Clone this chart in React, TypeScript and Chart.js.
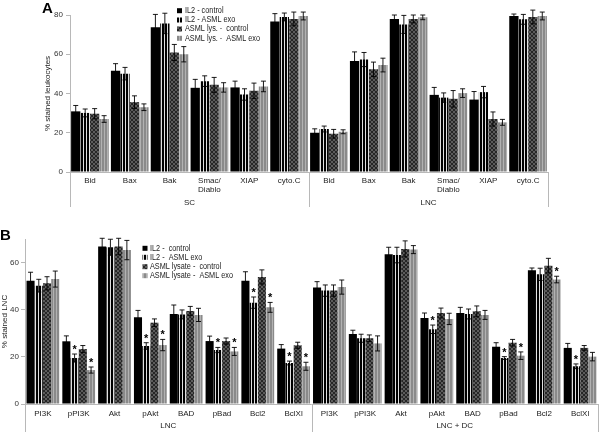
import React, { useEffect, useRef } from 'react';
import { Chart, registerables } from 'chart.js';
Chart.register(...registerables);

const FONT = "'Liberation Sans', Arial, Helvetica, sans-serif";

// ---------- Panel A data ----------
const categoriesA = ['Bid', 'Bax', 'Bak', 'Smac/|Diablo', 'XIAP', 'cyto.C', 'Bid', 'Bax', 'Bak', 'Smac/|Diablo', 'XIAP', 'cyto.C'];
const groupsA = ['SC', 'LNC'];
const seriesNamesA = ['IL2 - control', 'IL2 - ASML exo', 'ASML lys. -  control', 'ASML lys. -  ASML exo'];
const il2ControlA = [30.9, 51.6, 73.8, 42.9, 43.1, 76.7, 20.0, 56.6, 78.0, 39.3, 36.9, 79.5];
const il2ExoA = [30.1, 50.1, 75.7, 46.3, 39.5, 79.0, 21.9, 57.3, 75.2, 37.9, 40.7, 77.8];
const lysControlA = [29.7, 35.6, 60.9, 44.4, 41.4, 78.0, 19.5, 52.3, 78.0, 37.3, 27.0, 79.0];
const lysExoA = [27.0, 33.0, 60.0, 43.1, 43.6, 79.5, 20.5, 54.5, 78.8, 40.2, 25.3, 79.5];
const il2ControlErrA = [3.0, 3.6, 6.5, 4.3, 3.2, 4.0, 2.0, 4.6, 2.0, 3.8, 4.1, 1.0];
const il2ExoErrA = [2.0, 3.2, 5.2, 2.7, 2.9, 2.0, 1.5, 3.6, 4.6, 2.4, 2.9, 2.5];
const lysControlErrA = [2.6, 3.2, 4.1, 3.8, 3.9, 3.5, 2.2, 3.7, 2.0, 4.2, 3.6, 3.5];
const lysExoErrA = [1.7, 1.7, 3.9, 2.4, 2.7, 2.0, 1.0, 3.5, 1.2, 2.2, 1.5, 2.0];
const yTicksA = [0, 20, 40, 60, 80];

// ---------- Panel B data ----------
const categoriesB = ['PI3K', 'pPI3K', 'Akt', 'pAkt', 'BAD', 'pBad', 'Bcl2', 'BclXl', 'PI3K', 'pPI3K', 'Akt', 'pAkt', 'BAD', 'pBad', 'Bcl2', 'BclXl'];
const groupsB = ['LNC', 'LNC + DC'];
const seriesNamesB = ['IL2 -  control', 'IL2 -  ASML exo', 'ASML lysate -  control', 'ASML lysate -  ASML exo'];
const il2ControlB = [52.3, 26.6, 66.8, 36.8, 38.2, 26.7, 52.3, 23.5, 49.4, 29.7, 63.5, 36.5, 38.6, 24.3, 56.7, 23.8];
const il2ExoB = [50.2, 19.5, 66.5, 24.6, 38.0, 22.9, 43.0, 17.4, 48.1, 27.9, 63.2, 31.7, 38.2, 19.5, 55.0, 16.0];
const lysControlB = [51.2, 23.3, 66.8, 34.5, 39.5, 26.7, 53.9, 24.9, 48.1, 27.9, 65.8, 38.6, 39.3, 26.0, 58.7, 23.8];
const lysExoB = [53.0, 14.4, 65.3, 25.0, 37.8, 22.3, 41.0, 16.0, 49.6, 25.7, 65.5, 36.1, 37.8, 20.5, 52.8, 20.1];
const il2ControlErrB = [3.6, 2.3, 3.5, 2.9, 3.8, 2.1, 3.8, 1.7, 2.5, 1.6, 3.0, 2.1, 2.4, 1.7, 1.0, 1.9];
const il2ExoErrB = [2.7, 1.7, 3.4, 1.4, 1.9, 1.1, 2.4, 0.8, 2.4, 1.7, 3.3, 1.8, 2.1, 0.6, 2.6, 1.0];
const lysControlErrB = [2.8, 1.5, 3.5, 1.6, 1.9, 1.3, 3.0, 1.3, 2.4, 1.4, 3.4, 2.1, 2.3, 1.4, 3.1, 1.0];
const lysExoErrB = [3.4, 1.3, 4.1, 2.4, 2.8, 1.7, 2.1, 1.7, 3.0, 3.2, 1.7, 2.4, 1.9, 1.6, 1.4, 1.8];
const starsIl2ExoB = [1, 3, 5, 6, 7, 11, 13, 15];
const starsLysExoB = [1, 3, 5, 6, 7, 13, 14];
const yTicksB = [0, 20, 40, 60];

type PanelCfg = {
  height: number;
  letter: string;
  letterX: number;
  letterY: number;
  cats: string[];
  groups: string[];
  names: string[];
  series: number[][];
  errors: number[][];
  stars: number[][];
  yTicks: number[];
  yMax: number;
  yTitle: string;
  padding: { left: number; right: number; top: number; bottom: number };
  yWidth: number;
  tickPad: number;
  catPct: number;
  barPct: number;
  labelY1: number;
  labelY2: number;
  groupY: number;
  sepBottom: number;
  legendX: number;
  legendTextX: number;
  legendY: number[];
  legendMaxW: number;
};

const cfgA: PanelCfg = {
  height: 215,
  letter: 'A',
  letterX: 42,
  letterY: 13,
  cats: categoriesA,
  groups: groupsA,
  names: seriesNamesA,
  series: [il2ControlA, il2ExoA, lysControlA, lysExoA],
  errors: [il2ControlErrA, il2ExoErrA, lysControlErrA, lysExoErrA],
  stars: [[], [], [], []],
  yTicks: yTicksA,
  yMax: 80,
  yTitle: '% stained leukocytes',
  padding: { left: 43, right: 52, top: 15, bottom: 43 },
  yWidth: 27,
  tickPad: 3,
  catPct: 0.95,
  barPct: 0.98,
  labelY1: 181,
  labelY2: 190,
  groupY: 203,
  sepBottom: 207,
  legendX: 177,
  legendTextX: 185,
  legendY: [10.7, 20, 29, 38.3],
  legendMaxW: 75,
};

const cfgB: PanelCfg = {
  height: 217,
  letter: 'B',
  letterX: 0,
  letterY: 25,
  cats: categoriesB,
  groups: groupsB,
  names: seriesNamesB,
  series: [il2ControlB, il2ExoB, lysControlB, lysExoB],
  errors: [il2ControlErrB, il2ExoErrB, lysControlErrB, lysExoErrB],
  stars: [[], starsIl2ExoB, [], starsLysExoB],
  yTicks: yTicksB,
  yMax: 70,
  yTitle: '% stained LNC',
  padding: { left: 0, right: 2, top: 24, bottom: 28 },
  yWidth: 25,
  tickPad: 2,
  catPct: 0.92,
  barPct: 0.98,
  labelY1: 199,
  labelY2: 208,
  groupY: 211,
  sepBottom: 217,
  legendX: 142.5,
  legendTextX: 150,
  legendY: [33.3, 42.3, 51.7, 60.7],
  legendMaxW: 83,
};

function makeFills(): (string | CanvasPattern)[] {
  const mk = (w: number, h: number, draw: (x: CanvasRenderingContext2D) => void) => {
    const c = document.createElement('canvas');
    c.width = w;
    c.height = h;
    const x = c.getContext('2d')!;
    draw(x);
    return x.createPattern(c, 'repeat')!;
  };
  return [
    '#000000',
    mk(3, 3, (x) => {
      x.fillStyle = '#000';
      x.fillRect(0, 0, 3, 3);
      x.fillStyle = '#e0e0e0';
      x.fillRect(2, 0, 1, 3);
    }),
    mk(4, 4, (x) => {
      x.fillStyle = '#5c5c5c';
      x.fillRect(0, 0, 4, 4);
      x.fillStyle = '#262626';
      for (let i = 0; i < 4; i++) {
        x.fillRect(i, i, 1, 1);
        x.fillRect(3 - i, i, 1, 1);
      }
    }),
    mk(3, 3, (x) => {
      x.fillStyle = '#8a8a8a';
      x.fillRect(0, 0, 3, 3);
      x.fillStyle = '#b2b2b2';
      x.fillRect(2, 0, 1, 3);
    }),
  ];
}

function Panel({ cfg }: { cfg: PanelCfg }) {
  const ref = useRef<HTMLCanvasElement>(null);
  useEffect(() => {
    const fills = makeFills();
    const overlay = {
      id: 'overlay',
      afterDraw(chart: any) {
        const ctx: CanvasRenderingContext2D = chart.ctx;
        const xs = chart.scales.x;
        const ys = chart.scales.y;
        ctx.save();
        // error bars + stars
        cfg.series.forEach((vals, d) => {
          const meta = chart.getDatasetMeta(d);
          vals.forEach((v, i) => {
            const bar: any = meta.data[i];
            const e = cfg.errors[d][i];
            const x = bar.x;
            const yT = ys.getPixelForValue(v + e);
            const yB = ys.getPixelForValue(v - e);
            ctx.strokeStyle = '#000';
            ctx.lineWidth = 0.9;
            ctx.beginPath();
            ctx.moveTo(x, yB);
            ctx.lineTo(x, yT);
            ctx.moveTo(x - 2.5, yT);
            ctx.lineTo(x + 2.5, yT);
            ctx.moveTo(x - 2.5, yB);
            ctx.lineTo(x + 2.5, yB);
            ctx.stroke();
            if (cfg.stars[d].includes(i)) {
              ctx.fillStyle = '#000';
              ctx.font = `bold 11px ${FONT}`;
              ctx.textAlign = 'center';
              ctx.textBaseline = 'middle';
              ctx.fillText('*', x, yT - 4);
            }
          });
        });
        // baseline and separators
        const n = cfg.cats.length;
        const cw = (xs.right - xs.left) / n;
        ctx.strokeStyle = '#b8b8b8';
        ctx.lineWidth = 1;
        ctx.beginPath();
        ctx.moveTo(xs.left, ys.bottom + 0.5);
        ctx.lineTo(xs.right, ys.bottom + 0.5);
        const per = n / cfg.groups.length;
        for (let g = 0; g <= cfg.groups.length; g++) {
          const sx = Math.round(xs.left + g * per * cw) + 0.5;
          ctx.moveTo(sx, ys.bottom);
          ctx.lineTo(sx, cfg.sepBottom);
        }
        ctx.stroke();
        // category labels
        ctx.fillStyle = '#222';
        ctx.font = `8px ${FONT}`;
        ctx.textAlign = 'center';
        ctx.textBaseline = 'middle';
        cfg.cats.forEach((c, i) => {
          const cx = xs.getPixelForValue(i);
          const parts = c.split('|');
          ctx.fillText(parts[0], cx, cfg.labelY1);
          if (parts[1]) ctx.fillText(parts[1], cx, cfg.labelY2);
        });
        cfg.groups.forEach((g, gi) => {
          const gx = xs.left + (gi + 0.5) * per * cw;
          ctx.fillText(g, gx, cfg.groupY);
        });
        // legend
        ctx.font = `8.5px ${FONT}`;
        const widest = Math.max(...cfg.names.map((s) => ctx.measureText(s).width));
        const squeeze = Math.min(1, cfg.legendMaxW / widest);
        cfg.names.forEach((name, i) => {
          const yy = cfg.legendY[i];
          ctx.fillStyle = fills[i] as any;
          ctx.fillRect(cfg.legendX, yy - 2.5, 5, 5);
          ctx.fillStyle = '#222';
          ctx.textAlign = 'left';
          ctx.textBaseline = 'middle';
          ctx.font = `8.5px ${FONT}`;
          const w = ctx.measureText(name).width * squeeze;
          ctx.fillText(name, cfg.legendTextX, yy, w);
        });
        // panel letter
        ctx.fillStyle = '#000';
        ctx.font = `bold 15px ${FONT}`;
        ctx.textAlign = 'left';
        ctx.textBaseline = 'alphabetic';
        ctx.fillText(cfg.letter, cfg.letterX, cfg.letterY);
        ctx.restore();
      },
    };
    const chart = new Chart(ref.current!, {
      type: 'bar',
      data: {
        labels: cfg.cats.map((c) => c.replace('|', '')),
        datasets: cfg.series.map((d, i) => ({
          label: cfg.names[i],
          data: d,
          backgroundColor: fills[i] as any,
          borderWidth: 0,
          categoryPercentage: cfg.catPct,
          barPercentage: cfg.barPct,
        })),
      },
      options: {
        animation: false,
        responsive: false,
        maintainAspectRatio: false,
        layout: { padding: cfg.padding },
        plugins: { legend: { display: false }, tooltip: { enabled: false } },
        scales: {
          x: { display: false },
          y: {
            min: 0,
            max: cfg.yMax,
            afterBuildTicks: (ax: any) => {
              ax.ticks = cfg.yTicks.map((v) => ({ value: v }));
            },
            afterFit: (ax: any) => {
              ax.width = cfg.yWidth;
            },
            ticks: {
              font: { family: FONT, size: 8 },
              color: '#333',
              padding: cfg.tickPad,
            },
            grid: { drawOnChartArea: false, drawTicks: true, tickLength: 4, color: '#b8b8b8' },
            border: { display: true, color: '#b8b8b8' },
            title: {
              display: true,
              text: cfg.yTitle,
              font: { family: FONT, size: 8 },
              color: '#222',
              padding: 0,
            },
          },
        },
      },
      plugins: [overlay],
    });
    return () => chart.destroy();
  }, []);
  return <canvas ref={ref} width={600} height={cfg.height} style={{ display: 'block', width: 600, height: cfg.height }} />;
}

export default function App() {
  return (
    <div style={{ position: 'absolute', left: 0, top: 0, width: 600, height: 432, background: '#fff' }}>
      <Panel cfg={cfgA} />
      <Panel cfg={cfgB} />
    </div>
  );
}
